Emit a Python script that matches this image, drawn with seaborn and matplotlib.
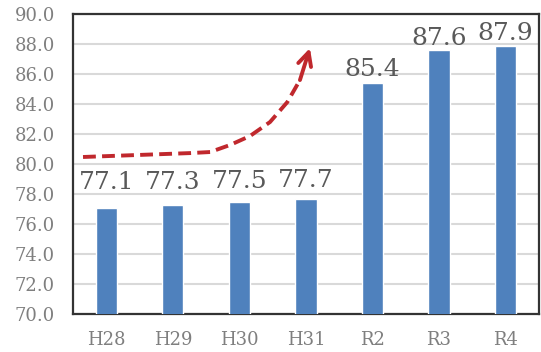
import matplotlib
matplotlib.use("Agg")
import matplotlib.pyplot as plt
import pandas as pd
import seaborn as sns

# Data
years = ["H28", "H29", "H30", "H31", "R2", "R3", "R4"]
values = [77.1, 77.3, 77.5, 77.7, 85.4, 87.6, 87.9]

# label offsets above bar top (points)
label_pad = [13, 11, 9.5, 8.5, 5, 3.6, 4.3]

# Trend arrow (decorative), in data coordinates
arrow_x = [-0.35, 1.26, 1.56, 1.86, 2.16, 2.46, 2.72, 2.91, 3.06]
arrow_y = [80.47, 80.73, 80.80, 81.27, 81.87, 82.80, 84.13, 85.60, 87.73]

sns.set_style("white")
plt.rcParams["font.family"] = ["DejaVu Serif"]

df = pd.DataFrame({"year": years, "value": values})

fig = plt.figure(figsize=(5.41, 3.52), dpi=100)
ax = fig.add_axes([0.135, 0.108, 0.861, 0.852])

sns.barplot(data=df, x="year", y="value", color="#4F81BD", saturation=1,
            width=0.32, ax=ax, zorder=3)

ax.set_ylim(70, 90)
ax.set_yticks(range(70, 91, 2))
ax.set_yticklabels([f"{v:.1f}" for v in range(70, 91, 2)])
ax.set_xlim(-0.5, len(years) - 0.5)
ax.set_xlabel("")
ax.set_ylabel("")
ax.yaxis.grid(True, color="#D9D9D9", linewidth=1.5, zorder=0)
ax.set_axisbelow(True)

for side in ax.spines.values():
    side.set_color("#333333")
    side.set_linewidth(1.6)

ax.tick_params(axis="both", length=0, labelsize=13, colors="#7F7F7F")
ax.tick_params(axis="y", pad=13)
ax.tick_params(axis="x", pad=12)

for i, v in enumerate(values):
    ax.annotate(f"{v:.1f}", (i, v), xytext=(0, label_pad[i]),
                textcoords="offset points", ha="center", va="baseline",
                fontsize=18, color="#595959")

# dashed red trend arrow
red = "#C0282D"
ax.plot(arrow_x[:-1], arrow_y[:-1], color=red, lw=2.8, ls=(0, (3.3, 1.6)),
        zorder=4)
ax.annotate("", xy=(arrow_x[-1], arrow_y[-1]), xytext=(arrow_x[-2], arrow_y[-2]),
            arrowprops=dict(arrowstyle="->", color=red, lw=2.8,
                            mutation_scale=24, shrinkA=0, shrinkB=0),
            zorder=4)

fig.savefig("out.png", dpi=100)
